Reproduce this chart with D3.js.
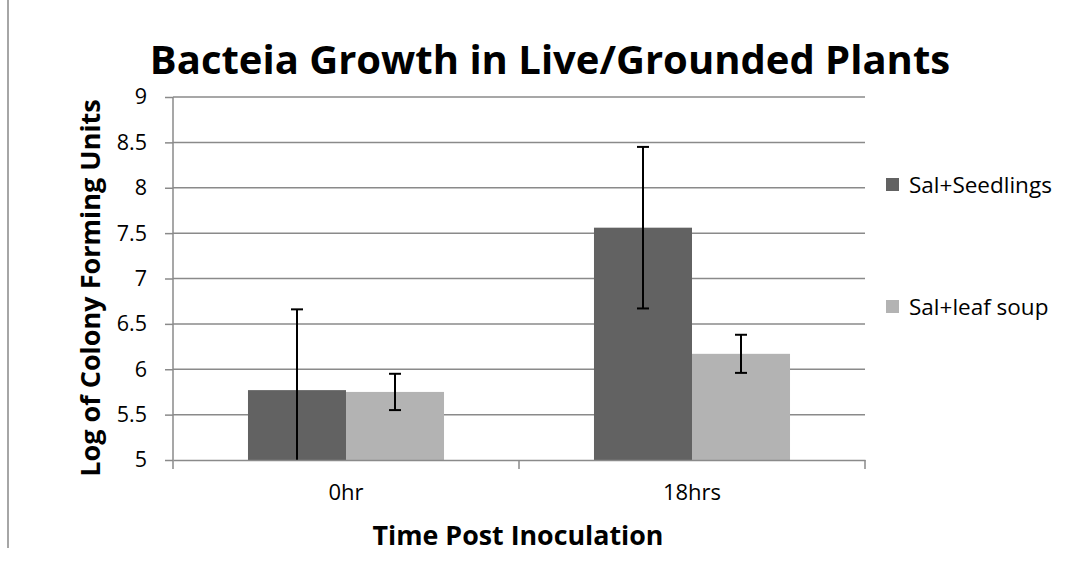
<!DOCTYPE html>
<html><head><meta charset="utf-8">
<script src="https://cdn.jsdelivr.net/npm/d3@7"></script>
<style>body{margin:0;background:#fff}svg{display:block}text{font-family:"Open Sans",sans-serif}</style>
</head><body>
<svg id="c" width="1088" height="563"></svg>
<script>
const categories = ["0hr", "18hrs"];
const seriesNames = ["Sal+Seedlings", "Sal+leaf soup"];
const seedlings = [5.77, 7.56];
const leafSoup = [5.75, 6.17];
const seedlingsErr = [0.89, 0.89];
const leafSoupErr = [0.20, 0.21];
const yTicks = [5, 5.5, 6, 6.5, 7, 7.5, 8, 8.5, 9];
const colors = ["#626262", "#b3b3b3"];

const svg = d3.select("#c");
const m = {l:173, r:865, t:97, b:460};
const x0 = d3.scaleBand().domain(categories).range([m.l, m.r]).paddingInner(0).paddingOuter(0);
const x1 = d3.scaleBand().domain(seriesNames).range([0, x0.bandwidth()]).paddingInner(0).paddingOuter(0.765);
const y = d3.scaleLinear().domain([5, 9]).range([m.b, m.t]);

// left border line
svg.append("line").attr("x1",8).attr("x2",8).attr("y1",0).attr("y2",548).attr("stroke","#a6a6a6").attr("stroke-width",2);

// gridlines
svg.append("g").selectAll("line").data(yTicks.slice(1)).join("line")
  .attr("x1", m.l).attr("x2", m.r).attr("y1", d=>y(d)).attr("y2", d=>y(d))
  .attr("stroke", "#8a8a8a").attr("stroke-width", 1.5);

const data = [seedlings, leafSoup];
const errs = [seedlingsErr, leafSoupErr];
const g = svg.append("g");
seriesNames.forEach((s, si) => {
  g.selectAll(null).data(categories).join("rect")
    .attr("x", c => x0(c) + x1(s)).attr("width", x1.bandwidth())
    .attr("y", (c,i) => y(data[si][i])).attr("height", (c,i) => y(5) - y(data[si][i]))
    .attr("fill", colors[si]);
});
// error bars
seriesNames.forEach((s, si) => {
  categories.forEach((c, i) => {
    const cx = x0(c) + x1(s) + x1.bandwidth()/2;
    const v = data[si][i], e = errs[si][i];
    const top = v + e, bot = Math.max(5, v - e);
    g.append("line").attr("x1",cx).attr("x2",cx).attr("y1",y(top)).attr("y2",y(bot)).attr("stroke","#000").attr("stroke-width",2);
    g.append("line").attr("x1",cx-6).attr("x2",cx+6).attr("y1",y(top)).attr("y2",y(top)).attr("stroke","#000").attr("stroke-width",2);
    if (v - e >= 5) g.append("line").attr("x1",cx-6).attr("x2",cx+6).attr("y1",y(bot)).attr("y2",y(bot)).attr("stroke","#000").attr("stroke-width",2);
  });
});

// y axis
const yAxis = svg.append("g").attr("transform",`translate(${m.l},0)`)
  .call(d3.axisLeft(y).tickValues(yTicks).tickSize(8).tickPadding(18).tickFormat(d3.format("")));
yAxis.select(".domain").attr("stroke","#8a8a8a").attr("stroke-width",1.5).attr("d",`M0,${m.t}V${m.b}`);
yAxis.selectAll(".tick line").attr("stroke","#8a8a8a").attr("stroke-width",1.5);
yAxis.selectAll(".tick text").attr("font-size",21.5).attr("fill","#000").attr("font-family","Open Sans");

// x axis
const xAxis = svg.append("g").attr("transform",`translate(0,${m.b})`)
  .call(d3.axisBottom(x0).tickSize(0).tickPadding(24));
xAxis.select(".domain").attr("stroke","#8a8a8a").attr("stroke-width",1.5);
xAxis.selectAll(".tick text").attr("font-size",22).attr("fill","#000").attr("font-family","Open Sans");
svg.append("g").selectAll("line").data([m.l, x0(categories[1]), m.r]).join("line")
  .attr("x1",d=>d).attr("x2",d=>d).attr("y1",m.b).attr("y2",m.b+9).attr("stroke","#8a8a8a").attr("stroke-width",1.5);

// title
svg.append("text").attr("x",550).attr("y",74).attr("text-anchor","middle")
  .attr("font-size",40).attr("font-weight","bold").text("Bacteia Growth in Live/Grounded Plants");
// axis titles
svg.append("text").attr("x",518).attr("y",545).attr("text-anchor","middle")
  .attr("font-size",26.8).attr("font-weight","bold").text("Time Post Inoculation");
svg.append("text").attr("transform","translate(100,288) rotate(-90)").attr("text-anchor","middle")
  .attr("font-size",27).attr("font-weight","bold").text("Log of Colony Forming Units");

// legend
const leg = svg.append("g");
const legY = [185, 307];
seriesNames.forEach((s, i) => {
  leg.append("rect").attr("x",886).attr("y",legY[i]-7).attr("width",13).attr("height",13).attr("fill",colors[i]);
  leg.append("text").attr("x",909).attr("y",legY[i]+8).attr("font-size",22.5).text(s);
});
</script>
</body></html>
